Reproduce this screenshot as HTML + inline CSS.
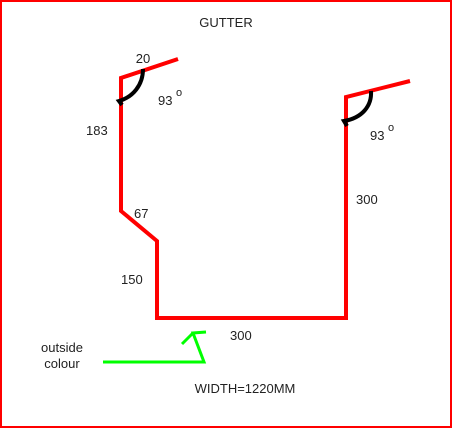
<!DOCTYPE html>
<html><head><meta charset="utf-8"><style>
html,body{margin:0;padding:0;background:#fff}
svg{display:block}
text{font-family:"Liberation Sans",sans-serif;font-size:13px;fill:#222}
</style></head><body>
<svg width="452" height="428" viewBox="0 0 452 428">
<rect x="1" y="1" width="450" height="426" fill="#fff" stroke="#f00" stroke-width="2"/>
<text x="226" y="27" text-anchor="middle">GUTTER</text>
<polyline points="178,59 121,78 121,211 157,241 157,318 346,318 346,97 410,81" fill="none" stroke="#f00" stroke-width="4" stroke-linejoin="miter"/>
<path d="M143,69 C143,85 133,97 119,101 L122,105" fill="none" stroke="#000" stroke-width="4"/>
<path d="M371,91 C372,106 362,118 344,121 L347,126" fill="none" stroke="#000" stroke-width="4"/>
<text x="143" y="63" text-anchor="middle">20</text>
<text x="158" y="105">93</text>
<text x="176" y="96" style="font-size:11px">o</text>
<text x="86" y="135">183</text>
<text x="134" y="218">67</text>
<text x="121" y="284">150</text>
<text x="230" y="340">300</text>
<text x="356" y="204">300</text>
<text x="370" y="140">93</text>
<text x="388" y="131" style="font-size:11px">o</text>
<polyline points="103,362 204,362 193,333 206,332" fill="none" stroke="#0f0" stroke-width="3"/>
<line x1="193" y1="333" x2="182" y2="344" stroke="#0f0" stroke-width="3"/>
<text x="62" y="352" text-anchor="middle">outside</text>
<text x="62" y="368" text-anchor="middle">colour</text>
<text x="245" y="393" text-anchor="middle">WIDTH=1220MM</text>
</svg>
</body></html>
